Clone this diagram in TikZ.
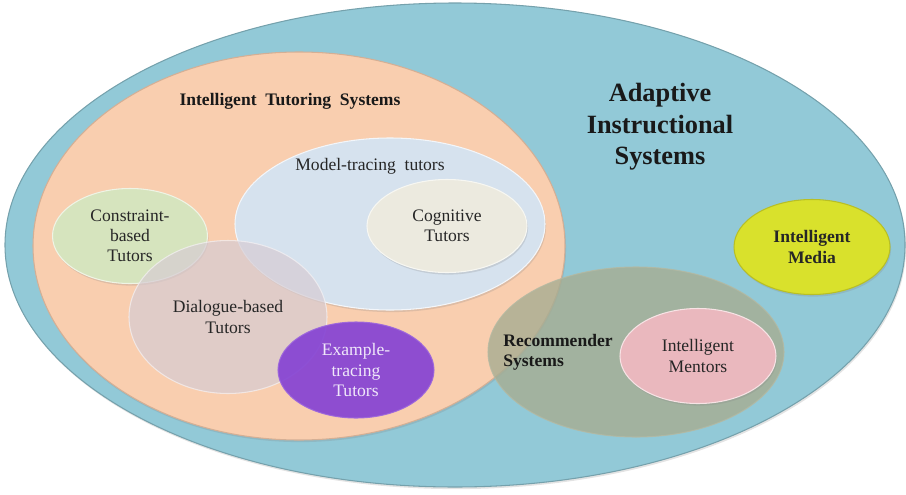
\documentclass[tikz,border=0pt]{standalone}
\usepackage{fontspec}
\setmainfont{Liberation Serif}
\usepackage{tikz}
\usetikzlibrary{shapes.geometric}
\usetikzlibrary{shadows}
\definecolor{aisblue}{HTML}{92C9D7}
\definecolor{itspeach}{HTML}{F9CEAF}
\definecolor{mttblue}{HTML}{D6E2EE}
\definecolor{cogbeige}{HTML}{ECEADF}
\definecolor{cbtgreen}{HTML}{D6E4BE}
\definecolor{dbtgrey}{HTML}{D6CCD3}
\definecolor{ettpurple}{HTML}{8340D4}
\definecolor{recolive}{HTML}{A7AD92}
\definecolor{mentpink}{HTML}{EAB8BE}
\definecolor{mediayellow}{HTML}{D9E12C}
\tikzset {
  % every set is an ellipse, text set in the middle
  venn/.style = {ellipse, inner sep=0pt, align=center, line width=0.6pt,
    text=black!85, font=\fontsize{10}{11.5}\selectfont},
  % width and height in pixels of the reference
  esize/.style 2 args = {minimum width=#1*0.02cm, minimum height=#2*0.02cm},
  % soft shadow under the opaque sets
  raised/.style = {drop shadow={opacity=0.22, shadow xshift=0.6pt, shadow yshift=-1.2pt}},
  % see-through sets, text stays solid
  glass/.style = {fill opacity=#1, draw opacity=#1, text opacity=1},
  % headings of the big sets
  heading/.style = {font=\bfseries\fontsize{10}{11.5}\selectfont, text=black!90},
  plain/.style = {font=\fontsize{10}{11.5}\selectfont, text=black!85},
}

\begin{document}
\begin{tikzpicture}[x=0.02cm, y=-0.02cm]
  \useasboundingbox (0,0) rectangle (906,494);

  \node[venn, raised, esize={900}{484}, fill=aisblue, draw=aisblue!80!black] (ais) at (455,245) {};
  \node[venn, raised, esize={532}{388}, fill=itspeach, draw=itspeach!85!black] (its) at (299,246) {};
  \node[venn, raised, esize={310}{172}, fill=mttblue, draw=white!70!mttblue] (mtt) at (390,224) {};
  \node[venn, raised, esize={160}{93}, fill=cogbeige, draw=white!60!cogbeige] (cog) at (447,226) {Cognitive\\Tutors};
  \node[venn, raised, esize={155}{95}, fill=cbtgreen, draw=white!60!cbtgreen] (cbt) at (130,236) {Constraint-\\based\\Tutors};
  \node[venn, glass=0.7, esize={198}{153}, fill=dbtgrey, draw=white!75!dbtgrey] (dbt) at (228,317) {Dialogue-based\\Tutors};
  \node[venn, glass=0.9, esize={156}{96}, fill=ettpurple, draw=ettpurple!80!white, text=white!88!ettpurple] (ett) at (356,370) {Example-\\tracing\\Tutors};
  \node[venn, glass=0.8, esize={296}{170}, fill=recolive, draw=recolive!85!white] (rec) at (636,352) {};
  \node[venn, raised, esize={156}{95}, fill=mentpink, draw=white!60!mentpink] (ment) at (698,356) {Intelligent\\Mentors};
  \node[venn, raised, esize={156}{95}, fill=mediayellow, draw=mediayellow!85!black, font=\bfseries\fontsize{10}{11.5}\selectfont] (media) at (812,247) {Intelligent\\Media};

  % headings
  \node[heading] (itstitle) at (290,101) {Intelligent\ \ Tutoring\ \ Systems};
  \node[plain] (mtttitle) at (370,166) {Model-tracing\ \ tutors};
  \node[heading, align=center, font=\bfseries\fontsize{15}{18}\selectfont] (aistitle) at (660,127) {Adaptive\\Instructional\\Systems};
  \node[heading, align=left, anchor=west, inner sep=0pt] (rectitle) at (503,352) {Recommender\\Systems};
\end{tikzpicture}
\end{document}
